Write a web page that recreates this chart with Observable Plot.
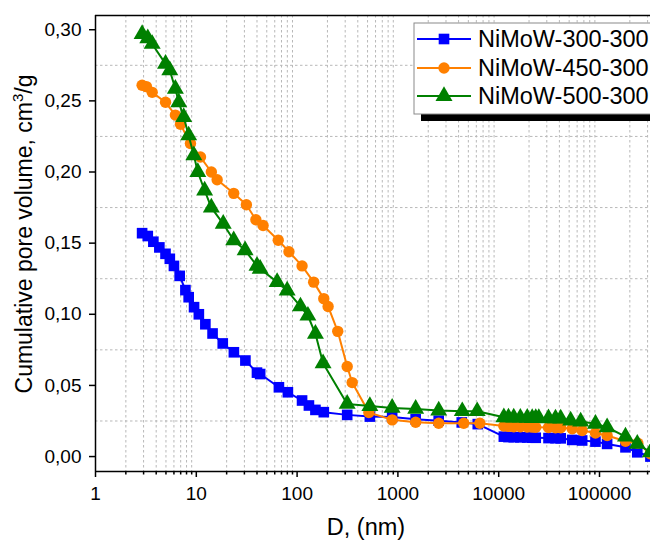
<!DOCTYPE html>
<html>
<head>
<meta charset="utf-8">
<script src="https://cdn.jsdelivr.net/npm/d3@7"></script>
<script src="https://cdn.jsdelivr.net/npm/@observablehq/plot@0.6"></script>
<style>
  html, body { margin: 0; padding: 0; background: #fff; }
  #chart { width: 650px; height: 542px; }
</style>
</head>
<body>
<div id="chart"></div>
<script>
// ---- Series names, colours, symbols ----
const seriesNames = ["NiMoW-300-300", "NiMoW-450-300", "NiMoW-500-300"];
const seriesColors = ["#0000ff", "#ff8000", "#008000"];
const seriesSymbols = ["square", "circle", "triangle"];

// ---- NiMoW-300-300 ----
const d300 = [2.9, 3.3, 3.75, 4.3, 4.95, 5.46, 6.0, 6.84, 7.8, 8.4, 9.5, 10.6, 12.3, 14.5, 18.3, 23.6, 30.7, 40, 43, 66, 81, 112, 131, 152, 184, 314, 527, 877, 1500, 2540, 4300, 6200, 11250, 12500, 14100, 16400, 19200, 21500, 23300, 31200, 36600, 41200, 53600, 67300, 91200, 119000, 181000, 237000, 320000];
const v300 = [0.157, 0.155, 0.151, 0.147, 0.1425, 0.139, 0.134, 0.127, 0.117, 0.112, 0.105, 0.100, 0.093, 0.0865, 0.0795, 0.0733, 0.0675, 0.0590, 0.0580, 0.0487, 0.0452, 0.0394, 0.0359, 0.0328, 0.0312, 0.0293, 0.0281, 0.0278, 0.0262, 0.0252, 0.0240, 0.0228, 0.0140, 0.0137, 0.0136, 0.0135, 0.0134, 0.0133, 0.0132, 0.0130, 0.0129, 0.0128, 0.0117, 0.0113, 0.0105, 0.0089, 0.0065, 0.0030, 0.0000];

// ---- NiMoW-450-300 ----
const d450 = [2.9, 3.2, 3.65, 4.95, 6.2, 6.97, 8.75, 11, 14.1, 16.1, 23.5, 31.4, 39, 46, 65, 83, 112, 146, 184, 203, 253, 314, 352, 515, 877, 1500, 2540, 4500, 6500, 11250, 12500, 14100, 16400, 19200, 21500, 23300, 31200, 36600, 41200, 53600, 67300, 91200, 119000, 181000, 240000, 320000];
const v450 = [0.261, 0.260, 0.256, 0.249, 0.240, 0.2335, 0.220, 0.2105, 0.200, 0.1946, 0.185, 0.177, 0.1664, 0.1624, 0.152, 0.144, 0.134, 0.1226, 0.111, 0.1055, 0.088, 0.0633, 0.052, 0.031, 0.0258, 0.0241, 0.0234, 0.0234, 0.0234, 0.0215, 0.0212, 0.0210, 0.0209, 0.0208, 0.0207, 0.0206, 0.0204, 0.0203, 0.0202, 0.0195, 0.0183, 0.0166, 0.0148, 0.0108, 0.0094, 0.0020];

// ---- NiMoW-500-300 ----
const d500 = [2.9, 3.3, 3.65, 4.95, 5.46, 6.2, 6.7, 7.5, 8.4, 9.45, 10.35, 12.1, 14.1, 18.5, 23.5, 30.5, 40, 43, 63.4, 79.7, 108, 128, 152, 181, 314, 527, 877, 1500, 2540, 4350, 6120, 11250, 12500, 14100, 16400, 19200, 21500, 23300, 25000, 31200, 36600, 41200, 51700, 65000, 91200, 119000, 181000, 237000, 320000];
const v500 = [0.297, 0.294, 0.290, 0.276, 0.2714, 0.2585, 0.249, 0.2386, 0.2257, 0.2117, 0.200, 0.187, 0.175, 0.1636, 0.152, 0.145, 0.134, 0.132, 0.1226, 0.1167, 0.1055, 0.099, 0.0863, 0.0656, 0.037, 0.0355, 0.0342, 0.0335, 0.0323, 0.0319, 0.0319, 0.0276, 0.0275, 0.0274, 0.0273, 0.0272, 0.0271, 0.0270, 0.0270, 0.0269, 0.0268, 0.0267, 0.0253, 0.0246, 0.0230, 0.0206, 0.0140, 0.0089, 0.0030];

// ---- Axis ticks / labels ----
const xDomain = [1, 320600];
const yDomain = [-0.0105, 0.31];
const xMajorTicks = [1, 10, 100, 1000, 10000, 100000];
const yMajorTicks = [0, 0.05, 0.10, 0.15, 0.20, 0.25, 0.30];
const yGridLines = [0.025, 0.075, 0.125, 0.175, 0.225, 0.275];
const xLabel = "D, (nm)";
const yLabelMain = "Cumulative pore volume, cm";
const yLabelSup = "3";
const yLabelEnd = "/g";

// minor x positions (2..9 in each decade) for grid and minor ticks
const xMinorTicks = [];
for (const dec of xMajorTicks) for (let k = 2; k <= 9; k++) { const v = dec * k; if (v <= xDomain[1]) xMinorTicks.push(v); }

const toRows = (ds, vs) => ds.map((d, i) => ({D: d, v: vs[i]}));
const seriesData = [toRows(d300, v300), toRows(d450, v450), toRows(d500, v500)];
const symbolR = [6.0, 5.7, 6.3];

const font = "'Liberation Sans', Arial, sans-serif";
const gridStyle = {stroke: "#b8b8b8", strokeWidth: 1, strokeDasharray: "2.5,2.5"};

const marks = [
  Plot.ruleX(xMinorTicks, gridStyle),
  Plot.ruleY(yGridLines, gridStyle),
];
seriesData.forEach((rows, i) => {
  marks.push(Plot.line(rows, {x: "D", y: "v", stroke: seriesColors[i], strokeWidth: 2}));
  marks.push(Plot.dot(rows, {x: "D", y: "v", fill: seriesColors[i], stroke: "none", symbol: seriesSymbols[i], r: symbolR[i]}));
});
marks.push(
  Plot.axisX(xMajorTicks, {tickSize: 6, tickPadding: 9, fontSize: 19, tickFormat: d => String(d), label: null, strokeWidth: 1.5}),
  Plot.axisX(xMinorTicks, {tickSize: 3.5, tickFormat: () => "", label: null, strokeWidth: 1.5}),
  Plot.axisY(yMajorTicks, {tickSize: 6, tickPadding: 8, fontSize: 19, tickFormat: d => d3.format(".2f")(d).replace(".", ","), label: null, strokeWidth: 1.5}),
  Plot.ruleX([xDomain[0]], {stroke: "black", strokeWidth: 1.5}),
  Plot.ruleY([yDomain[0]], {stroke: "black", strokeWidth: 1.5}),
  Plot.ruleY([yDomain[1]], {stroke: "black", strokeWidth: 1.5})
);

const chart = Plot.plot({
  width: 650, height: 542,
  marginLeft: 95, marginRight: 0, marginTop: 15, marginBottom: 71,
  x: {type: "log", domain: xDomain},
  y: {domain: yDomain},
  style: {fontFamily: font, background: "white", color: "black", overflow: "hidden"},
  marks
});
document.getElementById("chart").appendChild(chart);

// ---- axis titles and legend ----
const svg = d3.select(chart);
svg.append("text")
  .attr("x", 366).attr("y", 535)
  .attr("text-anchor", "middle")
  .attr("font-family", font).attr("font-size", 23.5).attr("fill", "black")
  .text(xLabel);

const yl = svg.append("text")
  .attr("transform", "translate(32,234) rotate(-90)")
  .attr("text-anchor", "middle")
  .attr("font-family", font).attr("font-size", 23).attr("fill", "black");
yl.append("tspan").text(yLabelMain);
yl.append("tspan").attr("font-size", 15).attr("dy", -9).text(yLabelSup);
yl.append("tspan").attr("dy", 9).text(yLabelEnd);

const lg = svg.append("g");
lg.append("rect").attr("x", 421).attr("y", 30).attr("width", 260).attr("height", 91).attr("fill", "black");
lg.append("rect").attr("x", 414).attr("y", 23).attr("width", 260).attr("height", 91)
  .attr("fill", "white").attr("stroke", "#8a8a8a").attr("stroke-width", 1);
const rowY = [39, 68, 96];
seriesNames.forEach((name, i) => {
  const y = rowY[i];
  lg.append("line").attr("x1", 417).attr("x2", 471).attr("y1", y).attr("y2", y)
    .attr("stroke", seriesColors[i]).attr("stroke-width", 2);
  const symType = {square: d3.symbolSquare, circle: d3.symbolCircle, triangle: d3.symbolTriangle}[seriesSymbols[i]];
  lg.append("path").attr("transform", `translate(444,${y})`)
    .attr("d", d3.symbol(symType, symbolR[i] * symbolR[i] * Math.PI)())
    .attr("fill", seriesColors[i]);
  lg.append("text").attr("x", 478).attr("y", y + 8)
    .attr("text-anchor", "start")
    .attr("font-family", font).attr("font-size", 23.5).attr("fill", "black")
    .text(name);
});
</script>
</body>
</html>
